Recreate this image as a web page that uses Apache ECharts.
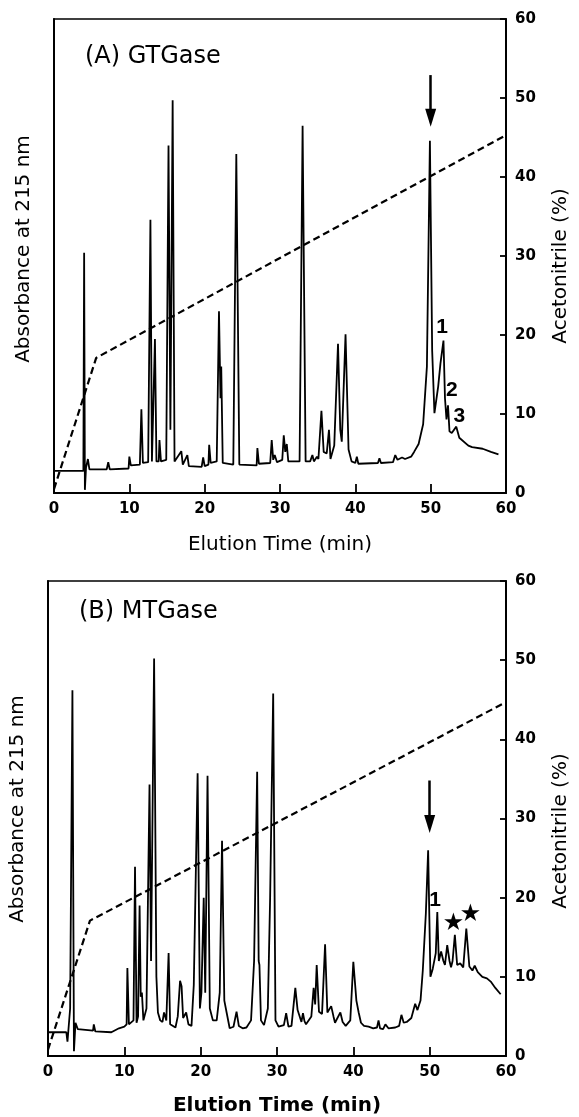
<!DOCTYPE html>
<html>
<head>
<meta charset="utf-8">
<script src="https://cdn.jsdelivr.net/npm/echarts@6/dist/echarts.min.js"></script>
<style>
  html, body { margin: 0; padding: 0; background: #fff; }
  #chart { width: 579px; height: 1117px; }
</style>
</head>
<body>
<div id="chart"></div>
<script>
// (A) GTGase chromatogram, [min, absorbance] (drawn on the 0-60 frame)
const traceA = [
  [0, 2.8], [3.9, 2.8], [4.0, 30.4], [4.1, 0.4], [4.25, 3.2], [4.5, 4.3], [4.7, 3.0],
  [7.0, 3.0], [7.2, 3.9], [7.4, 3.0], [9.9, 3.1], [10.0, 4.6], [10.2, 3.5],
  [11.4, 3.6], [11.6, 10.6], [11.8, 3.8], [12.5, 3.9], [12.8, 34.6], [13.0, 4.0],
  [13.2, 4.2], [13.4, 19.5], [13.6, 4.0], [13.9, 4.0], [14.0, 6.7], [14.2, 4.0],
  [14.9, 4.2], [15.2, 44.0], [15.45, 8.0], [15.75, 49.7], [16.0, 4.0], [16.2, 3.8],
  [16.9, 5.3], [17.1, 3.6], [17.7, 4.8], [17.9, 3.4], [19.6, 3.3], [19.8, 4.5],
  [20.0, 3.4], [20.5, 3.6], [20.6, 6.1], [20.8, 3.8], [21.6, 4.0], [21.9, 23.0],
  [22.1, 12.0], [22.2, 16.0], [22.4, 3.8], [23.8, 3.6], [24.2, 42.9], [24.6, 3.6],
  [26.9, 3.5], [27.0, 5.7], [27.2, 3.7], [28.7, 3.8], [28.9, 6.7], [29.1, 4.2],
  [29.3, 4.8], [29.6, 3.9], [30.3, 4.2], [30.5, 7.3], [30.7, 5.2], [30.9, 6.2],
  [31.1, 4.0], [32.6, 4.0], [33.0, 46.5], [33.4, 4.0], [34.0, 4.0], [34.3, 4.8],
  [34.5, 4.0], [34.9, 4.6], [35.1, 4.3], [35.5, 10.4], [35.8, 5.2], [36.2, 5.0],
  [36.5, 8.0], [36.7, 4.3], [37.2, 6.0], [37.7, 18.9], [38.0, 8.0], [38.2, 6.5],
  [38.7, 20.1], [39.1, 5.5], [39.5, 4.0], [40.0, 3.8], [40.2, 4.6], [40.4, 3.7],
  [43.0, 3.8], [43.2, 4.4], [43.4, 3.8], [45.0, 3.9], [45.3, 4.8], [45.6, 4.2],
  [46.2, 4.5], [46.6, 4.3], [47.4, 4.6], [47.8, 5.2], [48.4, 6.2], [49.0, 8.7],
  [49.5, 16.0], [49.9, 44.6], [50.2, 18.0], [50.5, 10.1], [51.0, 13.5], [51.3, 16.4],
  [51.7, 19.3], [51.9, 12.0], [52.1, 9.3], [52.3, 11.1], [52.5, 7.8], [52.8, 7.6],
  [53.4, 8.4], [53.8, 7.0], [55.0, 6.0], [55.5, 5.8], [56.9, 5.6], [58.0, 5.2], [59.0, 4.9]
]
// acetonitrile gradient (%)
const gradA = [[0, 0.5], [5.6, 17.1], [60, 45.3]]
const peakLabelsA = [[51.5, 21.0, '1'], [52.8, 13.0, '2'], [53.8, 9.7, '3']]
const arrowA = [50, 52.9, 47.5]

// (B) MTGase chromatogram
const traceB = [
  [0, 3.0], [2.4, 3.0], [2.55, 1.8], [2.9, 6.0], [3.2, 46.2], [3.4, 0.6], [3.6, 4.2],
  [3.9, 3.4], [5.9, 3.2], [6.0, 4.0], [6.2, 3.1], [8.3, 3.0], [9.3, 3.5], [10.0, 3.7],
  [10.3, 4.0], [10.4, 11.1], [10.6, 4.0], [11.2, 4.5], [11.4, 23.9], [11.6, 4.2],
  [11.8, 5.0], [12.0, 19.0], [12.15, 7.5], [12.3, 8.0], [12.5, 4.5], [12.9, 6.0],
  [13.3, 34.3], [13.5, 12.0], [13.9, 50.2], [14.2, 10.0], [14.4, 5.5], [14.7, 4.5],
  [15.0, 4.3], [15.2, 5.5], [15.5, 4.5], [15.8, 13.0], [16.0, 4.0], [16.7, 3.6],
  [17.0, 5.0], [17.3, 9.5], [17.5, 8.8], [17.7, 4.8], [18.1, 5.5], [18.4, 4.0],
  [18.8, 3.8], [19.1, 9.0], [19.6, 35.7], [19.9, 6.0], [20.1, 8.0], [20.4, 20.0],
  [20.6, 8.0], [20.9, 35.4], [21.2, 6.0], [21.6, 4.5], [22.1, 4.5], [22.5, 8.0],
  [22.8, 27.2], [23.1, 7.0], [23.4, 5.5], [23.8, 3.5], [24.3, 3.7], [24.7, 5.6],
  [25.0, 3.8], [25.5, 3.5], [26.0, 3.6], [26.6, 4.5], [27.0, 12.0], [27.4, 35.9],
  [27.6, 12.0], [27.7, 11.5], [27.9, 4.5], [28.3, 3.9], [28.8, 6.0], [29.1, 20.0],
  [29.5, 45.8], [29.8, 4.5], [30.2, 3.7], [30.9, 3.9], [31.2, 5.4], [31.5, 3.7],
  [31.9, 3.8], [32.4, 8.6], [32.7, 5.8], [32.9, 5.2], [33.2, 4.3], [33.4, 5.4],
  [33.6, 4.4], [33.8, 4.0], [34.5, 5.0], [34.8, 8.6], [35.0, 6.5], [35.2, 11.5],
  [35.5, 5.6], [35.9, 5.3], [36.3, 14.1], [36.6, 5.5], [37.1, 6.3], [37.4, 5.0],
  [37.6, 4.2], [38.3, 5.5], [38.6, 4.3], [39.0, 3.8], [39.6, 4.5], [40.0, 11.9],
  [40.4, 7.0], [40.7, 5.5], [41.0, 4.2], [41.4, 3.8], [42.0, 3.7], [42.6, 3.5],
  [43.1, 3.6], [43.3, 4.5], [43.5, 3.5], [43.9, 3.4], [44.2, 4.0], [44.6, 3.5],
  [45.5, 3.6], [46.0, 3.8], [46.3, 5.2], [46.6, 4.2], [47.0, 4.3], [47.6, 4.8],
  [48.1, 6.6], [48.4, 5.8], [48.8, 7.0], [49.1, 10.8], [49.5, 18.0], [49.8, 26.0],
  [50.1, 10.0], [50.4, 11.0], [50.8, 13.0], [51.0, 18.2], [51.2, 12.0], [51.5, 13.2],
  [51.8, 12.0], [52.0, 11.5], [52.3, 14.0], [52.6, 12.0], [52.8, 11.2], [53.0, 12.0],
  [53.3, 15.3], [53.6, 11.5], [54.0, 11.7], [54.4, 11.2], [54.8, 16.1], [55.2, 11.3],
  [55.6, 10.8], [55.9, 11.4], [56.3, 10.6], [56.9, 10.0], [57.5, 9.8], [58.0, 9.4],
  [58.6, 8.6], [59.3, 7.8]
]
const gradB = [[0, 0.8], [5.5, 17.1], [60, 44.7]]
const peakLabelsB = [[50.7, 19.7, '1'], [53.1, 16.75, '★'], [55.35, 17.9, '★']]
const arrowB = [50, 34.8, 29.3]

const xTicks = [0, 60, 10]
const yTicks = [0, 60, 10]

const font = 'DejaVu Sans'

function xAxisOf(gridIndex, gap, bold) {
  return {
    type: 'value', gridIndex: gridIndex,
    min: xTicks[0], max: xTicks[1], interval: xTicks[2],
    name: 'Elution Time (min)', nameLocation: 'middle', nameGap: gap,
    nameTextStyle: { fontFamily: font, fontSize: 20, color: '#000', fontWeight: bold ? 'bold' : 'normal' },
    axisLine: { show: true, lineStyle: { color: '#000', width: 2 } },
    axisTick: { show: true, inside: true, length: 9, lineStyle: { color: '#000', width: 1.8 } },
    axisLabel: { fontFamily: font, fontSize: 15, fontWeight: 'bold', color: '#000', margin: 9 },
    splitLine: { show: false },
  }
}

function leftAxisOf(gridIndex, pad) {
  return {
    type: 'value', gridIndex: gridIndex, position: 'left',
    min: yTicks[0], max: yTicks[1], interval: yTicks[2],
    name: 'Absorbance at 215 nm', nameLocation: 'middle', nameGap: 20,
    nameTextStyle: { fontFamily: font, fontSize: 20, color: '#000', padding: pad },
    axisLine: { show: true, lineStyle: { color: '#000', width: 2 } },
    axisTick: { show: false },
    axisLabel: { show: false },
    splitLine: { show: false },
  }
}

function rightAxisOf(gridIndex, pad) {
  return {
    type: 'value', gridIndex: gridIndex, position: 'right',
    min: yTicks[0], max: yTicks[1], interval: yTicks[2],
    name: 'Acetonitrile (%)', nameLocation: 'middle', nameGap: 45,
    nameTextStyle: { fontFamily: font, fontSize: 20, color: '#000', padding: pad },
    axisLine: { show: true, lineStyle: { color: '#000', width: 2 } },
    axisTick: { show: true, inside: true, length: 6, lineStyle: { color: '#000', width: 1.8 } },
    axisLabel: { fontFamily: font, fontSize: 15, fontWeight: 'bold', color: '#000', margin: 9 },
    splitLine: { show: false },
  }
}

function traceSeries(data, xi, yi, arrow) {
  return {
    type: 'line', xAxisIndex: xi, yAxisIndex: yi, data: data,
    showSymbol: false, symbol: 'none',
    lineStyle: { color: '#000', width: 1.8 },
    markLine: {
      silent: true,
      symbol: ['none', 'triangle'],
      symbolSize: [11, 18],
      lineStyle: { color: '#000', width: 2.5, type: 'solid' },
      label: { show: false },
      data: [[{ coord: [arrow[0], arrow[1]] }, { coord: [arrow[0], arrow[2]] }]],
    },
  }
}

function gradSeries(data, xi, yi) {
  return {
    type: 'line', xAxisIndex: xi, yAxisIndex: yi, data: data,
    showSymbol: false, symbol: 'none',
    lineStyle: { color: '#000', width: 2.2, type: [7, 4] },
  }
}

function labelSeries(data, xi, yi) {
  return {
    type: 'scatter', xAxisIndex: xi, yAxisIndex: yi, data: data,
    symbolSize: 0, silent: true,
    itemStyle: { opacity: 1, color: '#000' },
    label: {
      show: true, position: 'inside', color: '#000', opacity: 1,
      textBorderWidth: 0,
      fontFamily: 'Liberation Sans', fontWeight: 'bold', fontSize: 21,
      formatter: (p) => p.data[2],
    },
  }
}

let chart = echarts.init(document.getElementById('chart'), null, { renderer: 'canvas' })
let option = {
  animation: false,
  backgroundColor: '#fff',
  title: [
    { text: '(A) GTGase', left: 85, top: 45, padding: 0,
      textStyle: { fontFamily: font, fontSize: 24, fontWeight: 'normal', color: '#000' } },
    { text: '(B) MTGase', left: 79, top: 600, padding: 0,
      textStyle: { fontFamily: font, fontSize: 24, fontWeight: 'normal', color: '#000' } },
  ],
  grid: [
    { left: 54, top: 19, width: 465, height: 474, show: true, borderColor: '#000', borderWidth: 1.5 },
    { left: 46, top: 581, width: 464, height: 475, show: true, borderColor: '#000', borderWidth: 1.5 },
  ],
  xAxis: [xAxisOf(0, 42, false), xAxisOf(1, 40, true)],
  yAxis: [
    leftAxisOf(0, [0, 0, 0, 14]), rightAxisOf(0, [0, 20, 0, 0]),
    leftAxisOf(1, [0, 0, 0, 19]), rightAxisOf(1, [0, 25, 0, 0]),
  ],
  series: [
    traceSeries(traceA, 0, 0, arrowA),
    gradSeries(gradA, 0, 1),
    labelSeries(peakLabelsA, 0, 0),
    traceSeries(traceB, 1, 2, arrowB),
    gradSeries(gradB, 1, 3),
    labelSeries(peakLabelsB, 1, 2),
  ],
}
chart.setOption(option)
</script>
</body>
</html>
